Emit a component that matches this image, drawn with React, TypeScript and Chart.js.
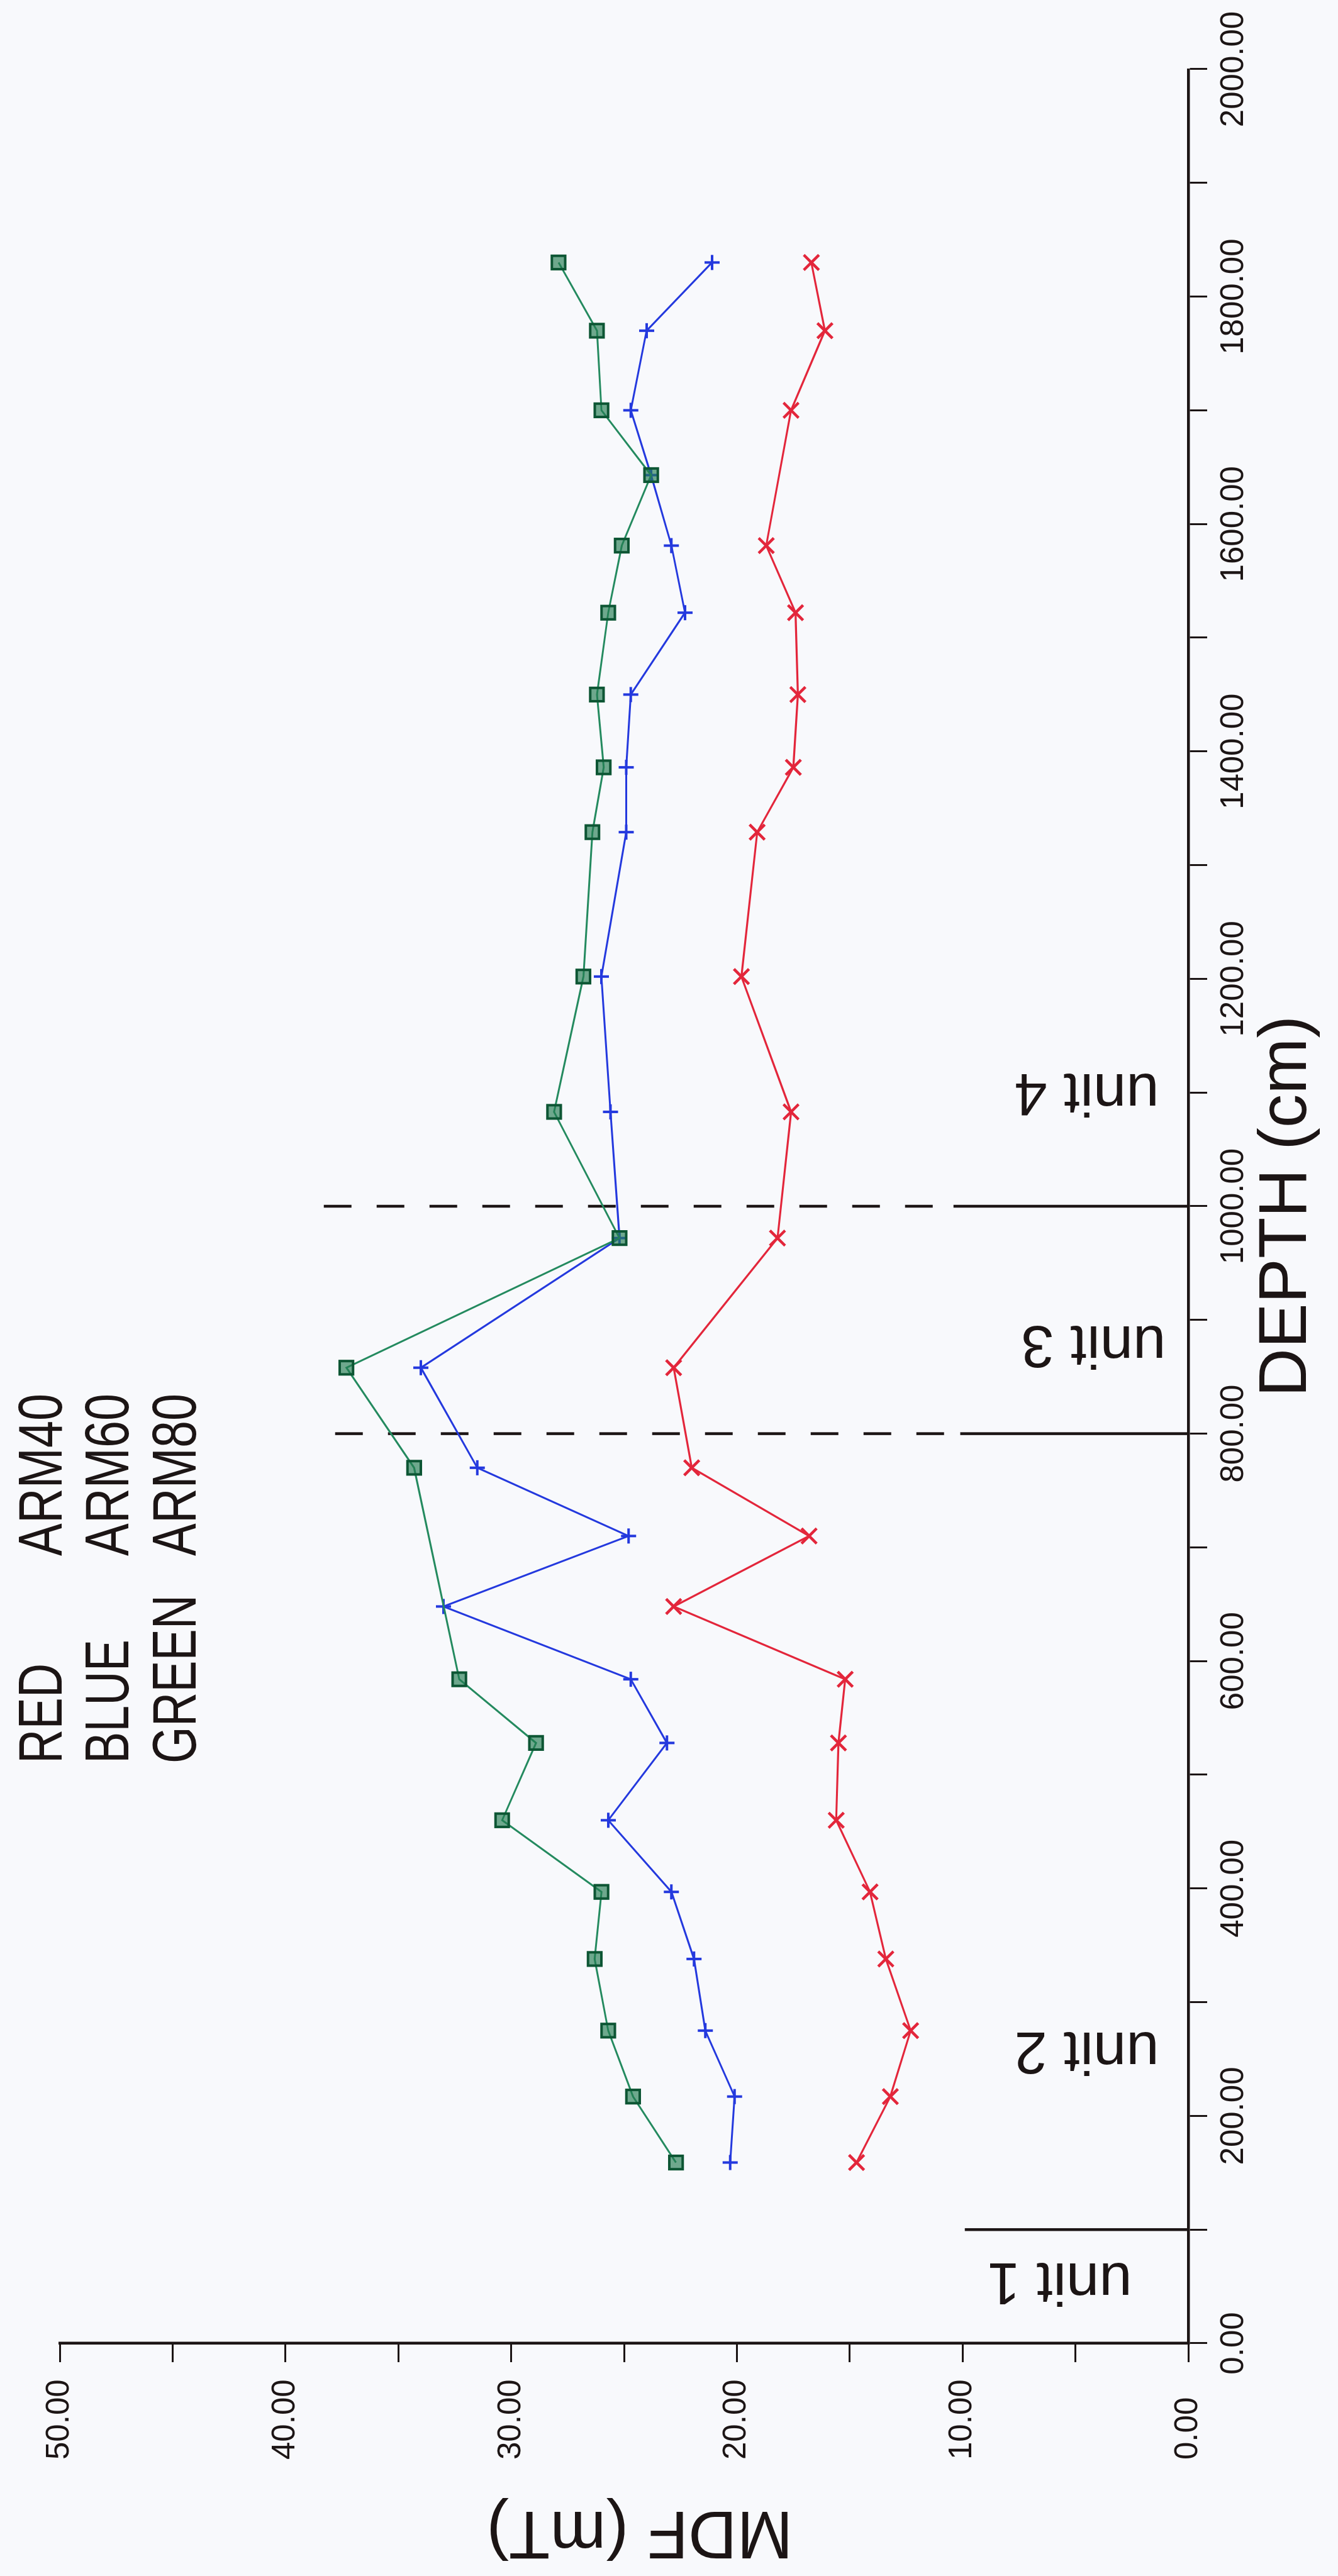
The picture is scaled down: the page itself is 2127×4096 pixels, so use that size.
import React, { useEffect, useRef } from 'react';
import { Chart, registerables } from 'chart.js';

Chart.register(...registerables);

// ---- data (depth in cm, MDF in mT) ----
const depthsCm = [1830, 1770, 1700, 1643, 1581, 1522, 1450, 1386, 1329, 1202, 1083, 972, 858, 770, 710, 648, 584, 528, 460, 397, 338, 275, 217, 159];
const arm40Red = [16.7, 16.1, 17.6, null, 18.7, 17.4, 17.3, 17.5, 19.1, 19.8, 17.6, 18.2, 22.8, 22.0, 16.8, 22.8, 15.2, 15.5, 15.6, 14.1, 13.4, 12.3, 13.2, 14.7];
const arm60Blue = [21.1, 24.0, 24.7, 23.8, 22.9, 22.3, 24.7, 24.9, 24.9, 26.0, 25.6, 25.2, 34.0, 31.5, 24.8, 33.0, 24.7, 23.1, 25.7, 22.9, 21.9, 21.4, 20.1, 20.3];
const arm80Green = [27.9, 26.2, 26.0, 23.8, 25.1, 25.7, 26.2, 25.9, 26.4, 26.8, 28.1, 25.2, 37.3, 34.3, null, null, 32.3, 28.9, 30.4, 26.0, 26.3, 25.7, 24.6, 22.7];

// unit boundaries
const boundaryDepths = [100, 800, 1000];
const boundaryDashedFrom = [null, 37.8, 38.3];
const boundarySolidFrom = [9.9, 10.1, 10.4];

// unit labels
const unitLabels = ['unit 1', 'unit 2', 'unit 3', 'unit 4'];
const unitLabelDepths = [56, 259, 880, 1102];
const unitLabelMdf = [5.7, 4.5, 4.2, 4.5];

// legend
const legendColourNames = ['RED', 'BLUE', 'GREEN'];
const legendSeriesNames = ['ARM40', 'ARM60', 'ARM80'];

// ---- styling ----
const CW = 4096;
const CH = 2127;
const BG = '#f8f9fc';
const INK = '#1c1515';
const RED = '#e3263b';
const BLUE = '#2439de';
const GREEN = '#248a5f';
const GREEN_DARK = '#0d5634';
const GREEN_FILL = 'rgba(35,125,82,0.65)';
const FONT = '"Liberation Sans", Arial, sans-serif';

const toPoints = (vals: (number | null)[]) =>
  depthsCm
    .map((d, i) => ({ x: d, y: vals[i] }))
    .filter((p) => p.y !== null) as { x: number; y: number }[];

const overlayPlugin = {
  id: 'overlay',
  afterDraw(chart: any) {
    const { ctx, chartArea } = chart;
    const xs = chart.scales.x;
    const ys = chart.scales.y;
    ctx.save();
    ctx.fillStyle = INK;

    // unit labels (rotated)
    ctx.font = `94px ${FONT}`;
    ctx.textAlign = 'center';
    ctx.textBaseline = 'middle';
    unitLabels.forEach((t, i) => {
      ctx.save();
      ctx.translate(xs.getPixelForValue(unitLabelDepths[i]), ys.getPixelForValue(unitLabelMdf[i]));
      ctx.rotate(-Math.PI / 2);
      ctx.fillText(t, 0, 0);
      ctx.restore();
    });

    // y axis title
    ctx.save();
    ctx.font = `107px ${FONT}`;
    ctx.translate(72, (chartArea.top + chartArea.bottom) / 2 + 25);
    ctx.rotate(-Math.PI / 2);
    ctx.fillText('MDF (mT)', 0, 0);
    ctx.restore();

    // legend
    ctx.font = `98px ${FONT}`;
    ctx.textAlign = 'left';
    ctx.textBaseline = 'alphabetic';
    const baselines = [98, 204, 311];
    legendColourNames.forEach((t, i) => {
      ctx.save();
      ctx.translate(1292, baselines[i]);
      ctx.scale(0.77, 1);
      ctx.fillText(t, 0, 0);
      ctx.restore();
      ctx.save();
      ctx.translate(1622, baselines[i]);
      ctx.scale(0.79, 1);
      ctx.fillText(legendSeriesNames[i], 0, 0);
      ctx.restore();
    });
    ctx.restore();
  },
};

export default function App() {
  const ref = useRef<HTMLCanvasElement>(null);

  useEffect(() => {
    const canvas = ref.current;
    if (!canvas) return;

    const boundarySets: any[] = [];
    boundaryDepths.forEach((d, i) => {
      const from = boundaryDashedFrom[i];
      if (from !== null) {
        boundarySets.push({
          label: `boundary-dash-${d}`,
          data: [
            { x: d, y: from },
            { x: d, y: boundarySolidFrom[i] },
          ],
          showLine: true,
          borderColor: INK,
          borderWidth: 4.5,
          borderDash: [44, 40],
          pointRadius: 0,
          order: 5,
        });
      }
      boundarySets.push({
        label: `boundary-${d}`,
        data: [
          { x: d, y: boundarySolidFrom[i] },
          { x: d, y: 0 },
        ],
        showLine: true,
        borderColor: INK,
        borderWidth: 4.5,
        pointRadius: 0,
        order: 5,
      });
    });

    const chart = new Chart(canvas, {
      type: 'scatter',
      data: {
        datasets: [
          {
            label: 'ARM40',
            data: toPoints(arm40Red),
            showLine: true,
            borderColor: RED,
            backgroundColor: RED,
            borderWidth: 3.2,
            pointStyle: 'crossRot',
            pointRadius: 17,
            pointBorderWidth: 4.5,
            pointBorderColor: RED,
            order: 2,
          },
          {
            label: 'ARM60',
            data: toPoints(arm60Blue),
            showLine: true,
            borderColor: BLUE,
            backgroundColor: BLUE,
            borderWidth: 3,
            pointStyle: 'cross',
            pointRadius: 12,
            pointBorderWidth: 4,
            pointBorderColor: BLUE,
            order: 1,
          },
          {
            label: 'ARM80',
            data: toPoints(arm80Green),
            showLine: true,
            borderColor: GREEN,
            backgroundColor: GREEN_FILL,
            borderWidth: 3,
            pointStyle: 'rect',
            pointRadius: 15,
            pointBorderWidth: 4,
            pointBorderColor: GREEN_DARK,
            pointBackgroundColor: GREEN_FILL,
            order: 0,
          },
          ...boundarySets,
        ],
      },
      options: {
        responsive: false,
        maintainAspectRatio: false,
        devicePixelRatio: 1,
        animation: false,
        events: [],
        layout: { padding: { left: 185, right: 110, top: 95, bottom: 0 } },
        plugins: {
          legend: { display: false },
          tooltip: { enabled: false },
          title: { display: false },
        },
        scales: {
          x: {
            type: 'linear',
            position: 'bottom',
            min: 0,
            max: 2000,
            ticks: {
              stepSize: 100,
              autoSkip: false,
              maxRotation: 0,
              minRotation: 0,
              padding: 12,
              color: INK,
              font: { family: FONT, size: 51 },
              callback: (v: any) => (Math.round(v) % 200 === 0 ? Number(v).toFixed(2) : ''),
            },
            grid: {
              drawOnChartArea: false,
              drawTicks: true,
              tickLength: 30,
              tickWidth: 3,
              tickColor: INK,
            },
            border: { display: true, color: INK, width: 4.5 },
            title: {
              display: true,
              text: 'DEPTH (cm)',
              color: INK,
              font: { family: FONT, size: 107 },
              padding: { top: 0, bottom: 16 },
            },
            afterFit: (s: any) => {
              s.height = CH - 1889;
            },
          },
          y: {
            type: 'linear',
            position: 'left',
            min: 0,
            max: 50,
            ticks: {
              stepSize: 5,
              autoSkip: false,
              crossAlign: 'far',
              padding: 10,
              color: INK,
              font: { family: FONT, size: 51 },
              callback: (v: any) => (Math.round(v) % 10 === 0 ? Number(v).toFixed(2) : ''),
            },
            grid: {
              drawOnChartArea: false,
              drawTicks: true,
              tickLength: 30,
              tickWidth: 3,
              tickColor: INK,
            },
            border: { display: true, color: INK, width: 4.5 },
            title: { display: false },
            afterFit: (s: any) => {
              s.width = 370 - 185;
            },
          },
        },
      } as any,
      plugins: [overlayPlugin],
    });

    return () => chart.destroy();
  }, []);

  return (
    <div
      style={{
        position: 'fixed',
        left: 0,
        top: 0,
        width: CW,
        height: CH,
        transformOrigin: '0 0',
        transform: `translate(0px, ${CW}px) rotate(-90deg)`,
        background: BG,
      }}
    >
      <canvas ref={ref} width={CW} height={CH} style={{ display: 'block', width: CW, height: CH }} />
    </div>
  );
}
